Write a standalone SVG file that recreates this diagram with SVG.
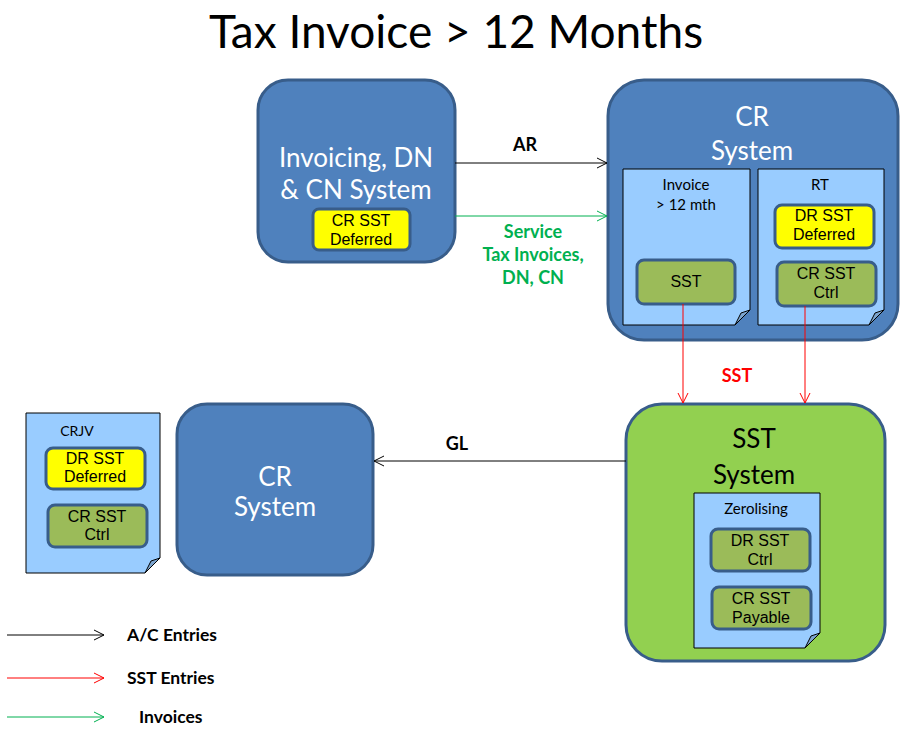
<svg xmlns="http://www.w3.org/2000/svg" width="917" height="742" viewBox="0 0 917 742">
<defs>
<style>
.sys{fill:#4F81BD;stroke:#385D8A;stroke-width:3}
.sysg{fill:#92D050;stroke:#385D8A;stroke-width:3}
.doc{fill:#99CCFF;stroke:#000;stroke-width:1}
.fold{fill:#7BA4CE;stroke:#000;stroke-width:1}
.yel{fill:#FFFF00;stroke:#385D8A;stroke-width:3}
.grn{fill:#9BBB59;stroke:#385D8A;stroke-width:3}
.big{font-family:Lato,"Open Sans",sans-serif;font-size:26px;text-anchor:middle}
.w{fill:#fff}
.k{fill:#000}
.small{font-family:"Liberation Sans",Arial,sans-serif;font-size:16px;text-anchor:middle;fill:#000}
.dl{font-family:Lato,"Open Sans",sans-serif;font-size:15px;text-anchor:middle;fill:#000}
.lab{font-family:Lato,"Open Sans",sans-serif;font-size:18px;font-weight:bold;text-anchor:middle}
.lg{font-family:Lato,"Open Sans",sans-serif;font-size:17.5px;font-weight:bold;fill:#000}
</style>
<marker id="ak" markerWidth="12" markerHeight="12" refX="11" refY="6" orient="auto" markerUnits="userSpaceOnUse"><path d="M1,1 L11,6 L1,11" fill="none" stroke="#000" stroke-width="1"/></marker>
<marker id="ar" markerWidth="12" markerHeight="12" refX="11" refY="6" orient="auto" markerUnits="userSpaceOnUse"><path d="M1,1 L11,6 L1,11" fill="none" stroke="#FF0000" stroke-width="1"/></marker>
<marker id="ag" markerWidth="12" markerHeight="12" refX="11" refY="6" orient="auto" markerUnits="userSpaceOnUse"><path d="M1,1 L11,6 L1,11" fill="none" stroke="#00B050" stroke-width="1"/></marker>
</defs>
<rect width="917" height="742" fill="#fff"/>
<text x="456" y="48" font-family="Lato,'Open Sans',sans-serif" font-size="46" text-anchor="middle" fill="#000">Tax Invoice &gt; 12 Months</text>

<g id="invoicing-system">
<rect class="sys" x="258" y="80" width="197" height="182" rx="30"/>
<text class="big w" x="356" y="167">Invoicing, DN</text>
<text class="big w" x="356" y="199">&amp; CN System</text>
<rect class="yel" x="313" y="209" width="97" height="41" rx="6"/>
<text class="small" x="361" y="226">CR SST</text>
<text class="small" x="361" y="245">Deferred</text>
</g>

<g id="cr-system-top">
<rect class="sys" x="608" y="80" width="290" height="260" rx="36"/>
<text class="big w" x="752" y="126">CR</text>
<text class="big w" x="752" y="160">System</text>
<g id="doc-invoice">
<path class="doc" d="M623,169 H750 V310 L735,325 H623 Z"/>
<path class="fold" d="M735,325 L750,310 L741,313 Z"/>
<text class="dl" x="686" y="190">Invoice</text>
<text class="dl" x="686" y="210">&gt; 12 mth</text>
<rect class="grn" x="637" y="260" width="98" height="44" rx="7"/>
<text class="small" x="686" y="287">SST</text>
</g>
<g id="doc-rt">
<path class="doc" d="M758,169 H884 V310 L869,325 H758 Z"/>
<path class="fold" d="M869,325 L884,310 L875,313 Z"/>
<text class="dl" x="820" y="190">RT</text>
<rect class="yel" x="775" y="205" width="99" height="43" rx="7"/>
<text class="small" x="824" y="221">DR SST</text>
<text class="small" x="824" y="240">Deferred</text>
<rect class="grn" x="777" y="262" width="99" height="44" rx="7"/>
<text class="small" x="826" y="279">CR SST</text>
<text class="small" x="826" y="298">Ctrl</text>
</g>
</g>

<g id="sst-system">
<rect class="sysg" x="626" y="404" width="259" height="257" rx="36"/>
<text class="big k" x="754" y="448">SST</text>
<text class="big k" x="754" y="484">System</text>
<g id="doc-zerolising">
<path class="doc" d="M694,493 H820 V633 L805,648 H694 Z"/>
<path class="fold" d="M805,648 L820,633 L811,636 Z"/>
<text class="dl" x="756" y="514">Zerolising</text>
<rect class="grn" x="711" y="529" width="99" height="42" rx="7"/>
<text class="small" x="760" y="546">DR SST</text>
<text class="small" x="760" y="565">Ctrl</text>
<rect class="grn" x="712" y="587" width="99" height="42" rx="7"/>
<text class="small" x="761" y="604">CR SST</text>
<text class="small" x="761" y="623">Payable</text>
</g>
</g>

<g id="cr-system-bottom">
<rect class="sys" x="177" y="404" width="196" height="171" rx="30"/>
<text class="big w" x="275" y="486">CR</text>
<text class="big w" x="275" y="516">System</text>
</g>

<g id="doc-crjv">
<path class="doc" d="M26,413 H160 V558 L145,573 H26 Z"/>
<path class="fold" d="M145,573 L160,558 L151,561 Z"/>
<text class="dl" x="77" y="436" style="font-size:14px">CRJV</text>
<rect class="yel" x="46" y="448" width="99" height="41" rx="7"/>
<text class="small" x="95" y="464">DR SST</text>
<text class="small" x="95" y="482">Deferred</text>
<rect class="grn" x="48" y="505" width="99" height="42" rx="7"/>
<text class="small" x="97" y="522">CR SST</text>
<text class="small" x="97" y="540">Ctrl</text>
</g>

<g id="connectors">
<line x1="455" y1="163" x2="607" y2="163" stroke="#000" stroke-width="1" marker-end="url(#ak)"/>
<text class="lab" x="525" y="151" fill="#000">AR</text>
<line x1="455" y1="216" x2="607" y2="216" stroke="#00B050" stroke-width="1" marker-end="url(#ag)"/>
<text class="lab" x="533" y="238" fill="#00B050">Service</text>
<text class="lab" x="533" y="261" fill="#00B050">Tax Invoices,</text>
<text class="lab" x="533" y="284" fill="#00B050">DN, CN</text>
<line x1="683" y1="304" x2="683" y2="403" stroke="#FF0000" stroke-width="1" marker-end="url(#ar)"/>
<line x1="805" y1="306" x2="805" y2="403" stroke="#FF0000" stroke-width="1" marker-end="url(#ar)"/>
<text class="lab" x="737" y="382" fill="#FF0000">SST</text>
<line x1="626" y1="461" x2="374" y2="461" stroke="#000" stroke-width="1" marker-end="url(#ak)"/>
<text class="lab" x="457" y="450" fill="#000">GL</text>
</g>

<g id="legend">
<line x1="7" y1="635" x2="104" y2="635" stroke="#000" stroke-width="1" marker-end="url(#ak)"/>
<text class="lg" x="127" y="641">A/C Entries</text>
<line x1="7" y1="678" x2="104" y2="678" stroke="#FF0000" stroke-width="1" marker-end="url(#ar)"/>
<text class="lg" x="127" y="684">SST Entries</text>
<line x1="7" y1="717" x2="104" y2="717" stroke="#00B050" stroke-width="1" marker-end="url(#ag)"/>
<text class="lg" x="139" y="723">Invoices</text>
</g>
</svg>
